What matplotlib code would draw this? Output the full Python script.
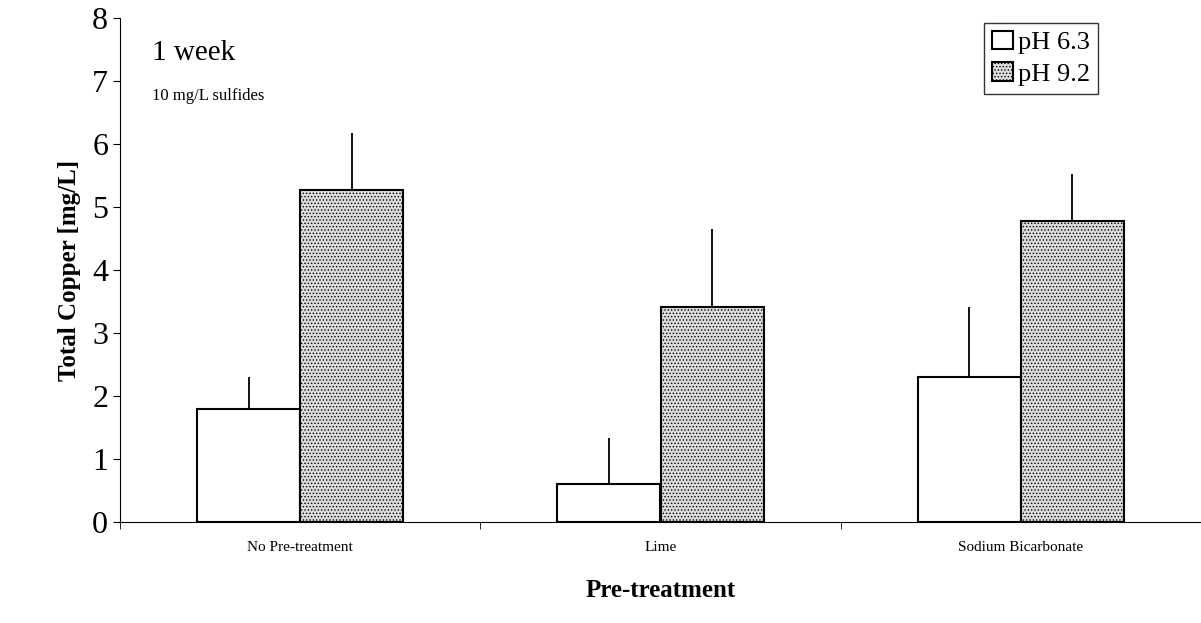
import numpy as np
import matplotlib.pyplot as plt

plt.rcParams['font.family'] = ['Liberation Serif', 'DejaVu Serif']
plt.rcParams['hatch.color'] = '#909090'
plt.rcParams['hatch.linewidth'] = 0.6

categories = ['No Pre-treatment', 'Lime', 'Sodium Bicarbonate']
ph63 = [1.8, 0.6, 2.3]
ph63_err = [0.5, 0.73, 1.12]
ph92 = [5.27, 3.42, 4.77]
ph92_err = [0.9, 1.23, 0.76]

fig = plt.figure(figsize=(12.01, 6.23), dpi=100)
ax = fig.add_axes([120/1201, 101/623, 1081/1201, 504/623])

x = np.arange(len(categories))
w = 0.286
ax.bar(x - w/2, ph63, w, color='white', edgecolor='black', linewidth=1.5, label='pH 6.3',
       yerr=[np.zeros(3), ph63_err], error_kw=dict(ecolor='black', elinewidth=1.3, capsize=0))
ax.bar(x + w/2, ph92, w, color='#dcdcdc', edgecolor='black', linewidth=1.5, label='pH 9.2',
       hatch='.....', yerr=[np.zeros(3), ph92_err], error_kw=dict(ecolor='black', elinewidth=1.3, capsize=0))

ax.set_xlim(-0.5, 2.5)
ax.set_ylim(0, 8)
ax.set_xticks(x)
ax.set_xticklabels(categories, fontsize=11)
ax.set_yticks(range(9))
ax.tick_params(axis='y', labelsize=23, direction='out', length=5)
ax.tick_params(axis='x', length=0, pad=14)
ax.spines['top'].set_visible(False)
ax.spines['right'].set_visible(False)
ax.set_xticks([-0.5, 0.5, 1.5, 2.5], minor=True)
ax.tick_params(axis='x', which='minor', length=5, direction='out')

ax.set_ylabel('Total Copper [mg/L]', fontsize=18, fontweight='bold', labelpad=8)
ax.set_xlabel('Pre-treatment', fontsize=18, fontweight='bold', labelpad=18)

ax.text(0.03, 0.93, '1 week', transform=ax.transAxes, fontsize=21, va='center')
ax.text(0.03, 0.845, '10 mg/L sulfides', transform=ax.transAxes, fontsize=12, va='center')

leg = ax.legend(loc='upper right', bbox_to_anchor=(0.905, 0.99), fontsize=19, frameon=True,
                fancybox=False, edgecolor='black', handlelength=0.8, handletextpad=0.2,
                borderpad=0.3, labelspacing=0.3, borderaxespad=0)
leg.get_frame().set_linewidth(1.0)

fig.savefig('out.png', dpi=100)
